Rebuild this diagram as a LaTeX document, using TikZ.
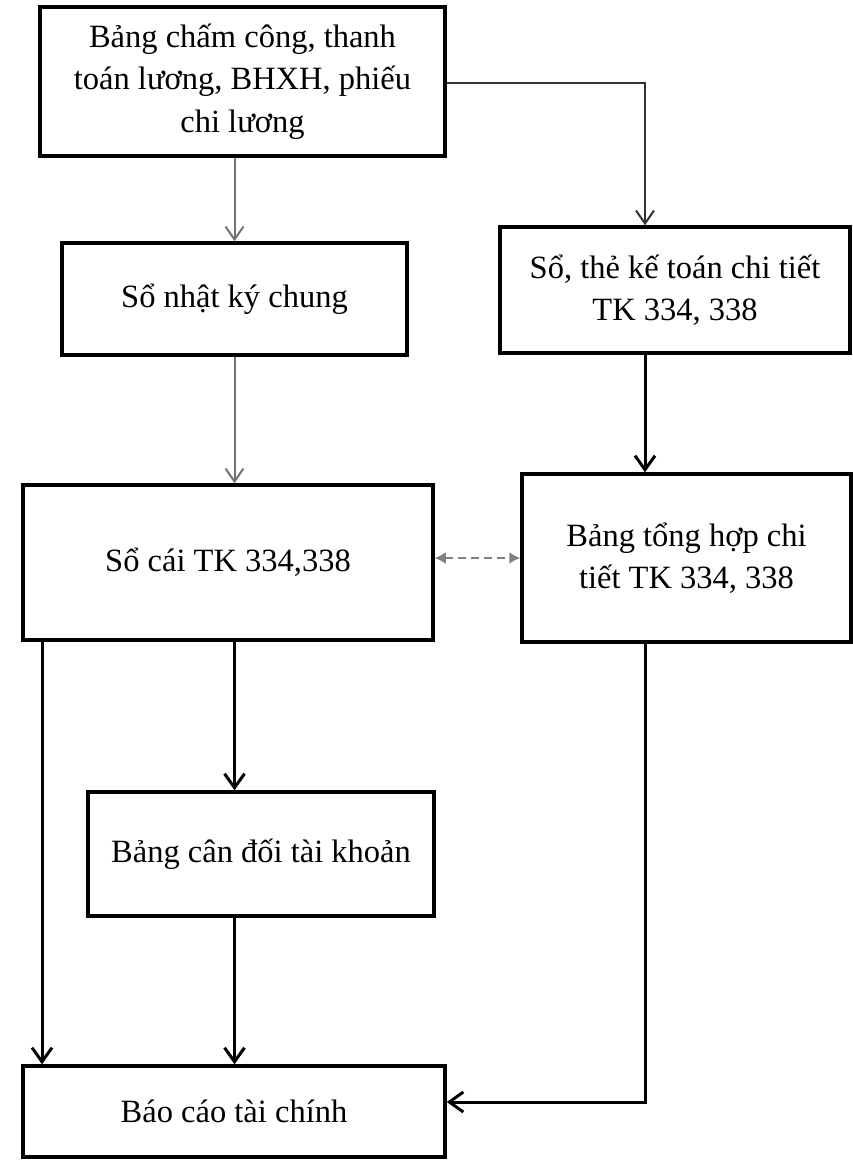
\documentclass[tikz,border=0pt]{standalone}
\usepackage{fontspec}
\setmainfont{Liberation Serif}
\usetikzlibrary{arrows.meta}
\begin{document}
\begin{tikzpicture}[
    x=1pt, y=-1pt,
    box/.style={rectangle, draw, line width=3.5pt, align=center, inner sep=0pt, font=\fontsize{32.5}{42.5}\selectfont},
    thinarrow/.style={-{Straight Barb[length=13pt, width=18pt, line width=2pt]}, line width=2pt, black!55},
    arrow/.style={-{Straight Barb[length=14pt, width=20pt, line width=3pt]}, line width=3pt},
    dasharrow/.style={{Latex[length=11pt, width=12pt]}-{Latex[length=11pt, width=12pt]}, dashed, dash pattern=on 8pt off 5pt, line width=2.5pt, black!50}
]
\useasboundingbox (0,0) rectangle (852,1168);
% Boxes from top to bottom
\node[box, minimum width=405pt, minimum height=149pt] (chamcong) at (242.5,81.5) {Bảng chấm công, thanh\\toán lương, BHXH, phiếu\\chi lương};
\node[box, minimum width=345pt, minimum height=112pt] (nhatky) at (234.5,299) {Sổ nhật ký chung};
\node[box, minimum width=350pt, minimum height=126pt] (sothe) at (675,290) {Sổ, thẻ kế toán chi tiết\\TK 334, 338};
\node[box, minimum width=410pt, minimum height=155pt] (socai) at (228,562.5) {Sổ cái TK 334,338};
\node[box, minimum width=329pt, minimum height=168pt] (tonghop) at (686.5,558) {Bảng tổng hợp chi\\tiết TK 334, 338};
\node[box, minimum width=346pt, minimum height=124pt] (candoi) at (261,854) {Bảng cân đối tài khoản};
\node[box, minimum width=422pt, minimum height=91pt] (baocao) at (234,1111.5) {Báo cáo tài chính};
\coordinate (rx) at (645,0);
\coordinate (lx) at (42,0);
% Connectors
\draw[thinarrow] (chamcong.south -| nhatky.north) -- (nhatky.north);
\draw[thinarrow, black!80] ([yshift=-1.5pt]chamcong.east) -| (rx |- sothe.north);
\draw[thinarrow] (nhatky.south) -- (nhatky.south |- socai.north);
\draw[arrow] (rx |- sothe.south) -- (rx |- tonghop.north);
\draw[dasharrow] (tonghop.west -| socai.east) -- (tonghop.west);
\draw[arrow] (nhatky.south |- socai.south) -- (nhatky.south |- candoi.north);
\draw[arrow] (lx |- socai.south) -- (lx |- baocao.north);
\draw[arrow] (nhatky.south |- candoi.south) -- (nhatky.south |- baocao.north);
\draw[arrow] (rx |- tonghop.south) |- ([yshift=9.5pt]baocao.east);
\end{tikzpicture}
\end{document}
